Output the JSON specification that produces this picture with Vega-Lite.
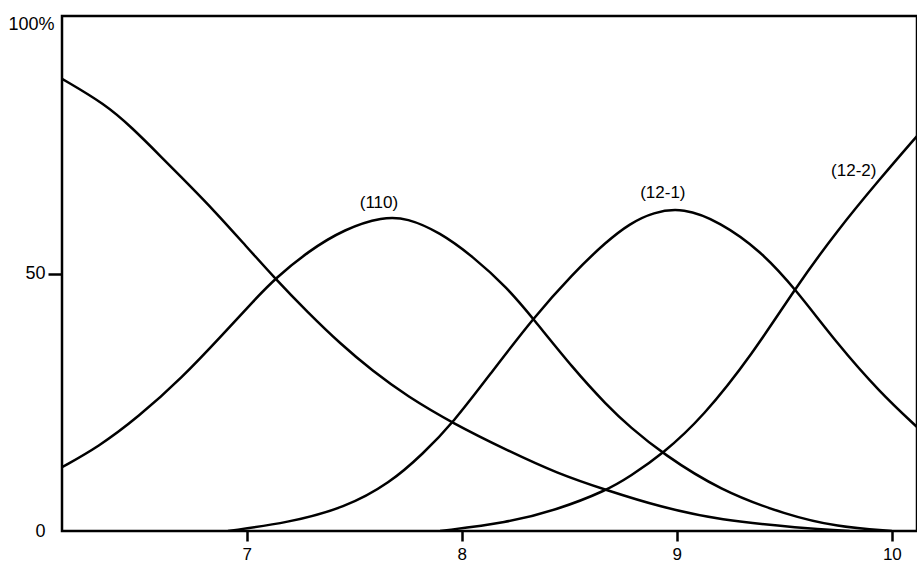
{
  "$schema": "https://vega.github.io/schema/vega-lite/v6.json",
  "autosize": "none",
  "padding": {"left": 62, "top": 16, "right": 0, "bottom": 37},
  "width": 855,
  "height": 515,
  "background": "white",
  "config": {
    "view": {"stroke": "black", "strokeWidth": 2.5},
    "font": "Liberation Sans"
  },
  "datasets": {
    "curves": [
      {"series": "A", "x": 6.141, "y": 87.8}, {"series": "A", "x": 6.341, "y": 82.9}, {"series": "A", "x": 6.467, "y": 78.3},
      {"series": "A", "x": 6.606, "y": 72.5}, {"series": "A", "x": 6.727, "y": 67.4}, {"series": "A", "x": 6.853, "y": 62.0},
      {"series": "A", "x": 6.978, "y": 56.2}, {"series": "A", "x": 7.132, "y": 49.0}, {"series": "A", "x": 7.285, "y": 42.4},
      {"series": "A", "x": 7.434, "y": 36.4}, {"series": "A", "x": 7.587, "y": 31.0}, {"series": "A", "x": 7.745, "y": 26.2},
      {"series": "A", "x": 7.959, "y": 20.9}, {"series": "A", "x": 8.210, "y": 15.7}, {"series": "A", "x": 8.443, "y": 11.2},
      {"series": "A", "x": 8.675, "y": 7.9}, {"series": "A", "x": 8.921, "y": 4.7},
      {"series": "A", "x": 9.200, "y": 2.1}, {"series": "A", "x": 9.572, "y": 0.6}, {"series": "A", "x": 9.804, "y": 0.0},
      {"series": "B", "x": 6.141, "y": 12.4}, {"series": "B", "x": 6.309, "y": 16.3}, {"series": "B", "x": 6.495, "y": 22.1},
      {"series": "B", "x": 6.700, "y": 29.8}, {"series": "B", "x": 6.885, "y": 38.0}, {"series": "B", "x": 7.039, "y": 45.0},
      {"series": "B", "x": 7.132, "y": 49.0}, {"series": "B", "x": 7.285, "y": 54.3}, {"series": "B", "x": 7.457, "y": 58.7},
      {"series": "B", "x": 7.633, "y": 61.0}, {"series": "B", "x": 7.745, "y": 60.8}, {"series": "B", "x": 7.898, "y": 58.0},
      {"series": "B", "x": 8.052, "y": 53.3}, {"series": "B", "x": 8.210, "y": 47.3}, {"series": "B", "x": 8.331, "y": 41.3},
      {"series": "B", "x": 8.517, "y": 31.6}, {"series": "B", "x": 8.675, "y": 24.4}, {"series": "B", "x": 8.782, "y": 20.2},
      {"series": "B", "x": 8.935, "y": 15.0}, {"series": "B", "x": 9.200, "y": 7.9}, {"series": "B", "x": 9.511, "y": 3.1},
      {"series": "B", "x": 9.744, "y": 0.8}, {"series": "B", "x": 10.0, "y": 0.0},
      {"series": "C", "x": 6.913, "y": 0.0}, {"series": "C", "x": 7.192, "y": 1.6}, {"series": "C", "x": 7.457, "y": 4.5},
      {"series": "C", "x": 7.666, "y": 9.3}, {"series": "C", "x": 7.820, "y": 15.0}, {"series": "C", "x": 7.959, "y": 21.0},
      {"series": "C", "x": 8.131, "y": 30.4}, {"series": "C", "x": 8.331, "y": 41.3}, {"series": "C", "x": 8.517, "y": 50.0},
      {"series": "C", "x": 8.675, "y": 56.3}, {"series": "C", "x": 8.782, "y": 59.7}, {"series": "C", "x": 8.889, "y": 61.9},
      {"series": "C", "x": 9.029, "y": 62.8}, {"series": "C", "x": 9.201, "y": 60.0}, {"series": "C", "x": 9.387, "y": 54.5},
      {"series": "C", "x": 9.550, "y": 47.1}, {"series": "C", "x": 9.745, "y": 36.4}, {"series": "C", "x": 9.945, "y": 26.9},
      {"series": "C", "x": 10.117, "y": 20.2},
      {"series": "D", "x": 7.899, "y": 0.0}, {"series": "D", "x": 8.210, "y": 1.6}, {"series": "D", "x": 8.443, "y": 4.1},
      {"series": "D", "x": 8.675, "y": 7.9}, {"series": "D", "x": 8.782, "y": 10.6}, {"series": "D", "x": 8.935, "y": 15.0},
      {"series": "D", "x": 9.121, "y": 22.1}, {"series": "D", "x": 9.353, "y": 34.4}, {"series": "D", "x": 9.550, "y": 47.1},
      {"series": "D", "x": 9.745, "y": 58.3}, {"series": "D", "x": 9.945, "y": 68.4}, {"series": "D", "x": 10.117, "y": 76.7}
    ],
    "labels": [
      {"label": "(110)", "x": 7.615, "y": 63.6},
      {"label": "(12-1)", "x": 8.935, "y": 65.7},
      {"label": "(12-2)", "x": 9.823, "y": 70.0}
    ]
  },
  "layer": [
    {
      "data": {"name": "curves"},
      "mark": {"type": "line", "interpolate": "basis", "color": "black", "strokeWidth": 2.5, "clip": true},
      "encoding": {
        "x": {
          "field": "x", "type": "quantitative",
          "scale": {"domain": [6.141, 10.117], "nice": false, "zero": false},
          "axis": {
            "title": null, "values": [7, 8, 9, 10], "format": "d", "grid": false, "domain": false,
            "tickSize": 10, "tickWidth": 2.5, "tickColor": "black",
            "labelFontSize": 17, "labelColor": "black", "labelPadding": 5,
            "labelFont": "Liberation Sans"
          }
        },
        "y": {
          "field": "y", "type": "quantitative",
          "scale": {"domain": [0, 100], "nice": false},
          "axis": {
            "title": null, "values": [0, 50, 100], "grid": false, "domain": false,
            "tickSize": 14, "tickWidth": 2.5, "tickColor": "black",
            "tickOpacity": {"condition": {"test": "datum.value == 50", "value": 1}, "value": 0},
            "labelPadding": {"condition": {"test": "datum.value == 100", "value": -6}, "value": 3},
            "labelOffset": {"condition": {"test": "datum.value == 100", "value": 8}, "value": 0},
            "labelExpr": "datum.value == 100 ? '100%' : datum.label",
            "labelFontSize": 18, "labelColor": "black",
            "labelFont": "Liberation Sans"
          }
        },
        "detail": {"field": "series"}
      }
    },
    {
      "data": {"name": "labels"},
      "mark": {"type": "text", "fontSize": 17, "color": "black", "font": "Liberation Sans"},
      "encoding": {
        "x": {"field": "x", "type": "quantitative"},
        "y": {"field": "y", "type": "quantitative"},
        "text": {"field": "label"}
      }
    }
  ]
}
